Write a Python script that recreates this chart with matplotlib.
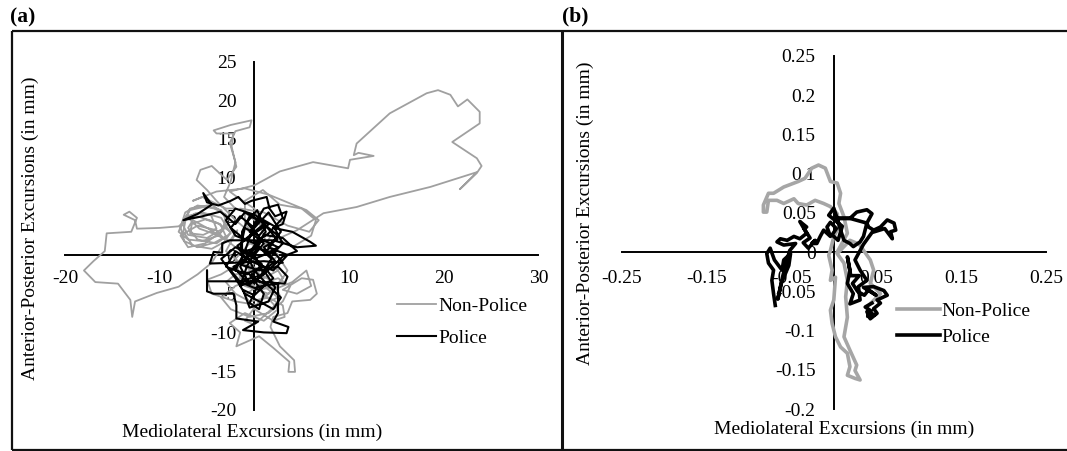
import matplotlib
matplotlib.use("Agg")
import matplotlib.pyplot as plt
from matplotlib.lines import Line2D
import numpy as np

# ---------------- data ----------------
# Panel (a) – mm
a_xticks = [-20, -10, 0, 10, 20, 30]
a_yticks = [-20, -15, -10, -5, 0, 5, 10, 15, 20, 25]

a_nonpolice = [
    (0.5, -1.0), (-1.5, 0.5), (-3.0, 2.0), (-5.0, 3.5), (-6.5, 4.5), (-7.0, 3.5), (-6.0, 2.0),
    (-4.0, 1.5), (-2.5, 2.8), (-3.5, 4.8), (-5.5, 5.5), (-7.2, 5.0), (-7.5, 3.0), (-6.5, 1.2),
    (-4.5, 0.8), (-3.0, 1.8), (-4.0, 3.2), (-6.0, 3.8), (-7.8, 2.5), (-7.0, 1.0), (-5.2, 1.5),
    (-3.5, 3.0), (-2.8, 5.0), (-4.5, 6.5), (-6.8, 6.0), (-7.5, 4.2),
    (-8.0, 3.7), (-10.0, 3.5), (-12.4, 3.4), (-12.6, 4.5), (-13.8, 5.2), (-13.2, 5.6), (-12.4, 4.8),
    (-13.0, 3.0), (-15.6, 2.8), (-15.8, 0.5), (-17.0, -0.8), (-18.0, -2.0), (-16.8, -3.5),
    (-14.4, -3.7), (-13.1, -5.8), (-12.9, -8.0), (-12.6, -6.0), (-10.3, -4.9), (-8.0, -4.1),
    (-6.0, -2.5), (-4.5, -1.0),
    (-2.5, 3.0), (-4.0, 4.2), (-6.0, 5.0), (-7.5, 4.5), (-8.0, 3.0), (-7.0, 2.0), (-5.5, 1.8),
    (-3.8, 2.5), (-2.8, 4.0), (-3.5, 5.8), (-5.0, 6.3), (-6.8, 5.8), (-7.6, 4.0), (-7.0, 2.6),
    (-5.0, 2.2), (-3.2, 3.5), (-3.0, 5.2), (-4.2, 6.0), (-6.0, 6.4), (-7.3, 5.5), (-7.8, 3.6),
    (-7.4, 1.8), (-6.0, 1.0), (-4.2, 1.6), (-3.0, 2.4), (-3.6, 4.0), (-5.2, 4.6), (-6.6, 4.0),
    (-6.8, 2.8), (-5.4, 2.6), (-4.0, 3.4), (-4.6, 5.2), (-6.2, 5.4), (-7.0, 4.8), (-5.8, 3.4),
    (-4.4, 2.8), (-2.6, 1.8), (-1.8, 3.2),
    (-3.0, 0.5), (-1.0, -1.5), (1.0, -3.0), (2.5, -2.0), (1.5, 0.5), (-0.5, 1.5), (-2.0, -0.5),
    (-1.5, -3.0), (0.5, -4.5), (2.5, -4.0), (3.5, -2.0), (2.0, 0.8), (0.0, 2.5),
    (-2.0, 4.5), (-4.0, 7.0), (-5.0, 8.4), (-6.1, 9.7), (-5.7, 11.0), (-4.5, 11.5), (-2.9, 9.7),
    (-1.9, 11.4), (-2.4, 14.0), (-2.2, 15.7), (-4.0, 15.7), (-4.3, 16.1), (-2.5, 16.8), (-0.3, 17.4),
    (-0.5, 16.5), (-2.0, 16.0), (-2.6, 14.5), (-2.0, 12.0), (-2.5, 9.5), (-3.2, 7.5), (-2.0, 6.0),
    (-3.0, 6.0), (-5.5, 7.5), (-6.5, 7.0), (-4.0, 8.2), (-1.0, 8.6), (1.5, 7.8), (3.5, 6.8),
    (5.5, 5.8), (6.8, 4.5), (5.8, 3.0), (3.5, 3.8), (1.0, 5.5), (-1.5, 6.0),
    (0.0, 4.5), (2.0, 3.0), (1.0, 1.0), (-1.0, 0.0), (-2.5, -2.0), (-1.0, -4.0), (1.5, -5.0),
    (3.0, -3.0), (2.0, -1.0),
    (0.0, 6.0), (-1.5, 7.2), (-2.6, 8.2), (0.0, 9.0), (2.7, 10.8), (6.2, 12.0), (9.9, 11.2),
    (10.1, 12.3), (12.6, 12.8), (11.0, 13.2), (10.5, 12.9), (10.8, 14.4), (14.3, 18.3),
    (18.2, 20.9), (19.4, 21.3), (20.7, 20.7), (21.5, 19.2), (22.5, 20.1), (23.8, 18.5),
    (23.8, 17.0), (20.9, 14.6), (23.5, 12.5), (24.0, 11.5), (23.5, 10.6), (21.7, 8.5),
    (22.3, 9.2), (23.5, 10.7),
    (18.6, 8.8), (14.3, 7.5), (10.8, 6.2), (7.3, 5.4), (4.5, 3.2), (2.5, 2.1),
    (4.0, 1.0), (6.0, 2.5), (6.5, 4.5), (5.0, 6.0), (2.7, 6.5), (0.9, 8.4), (-1.0, 7.0), (-1.0, 4.0),
    (0.5, 2.0), (2.5, 0.0), (1.0, -2.0), (-1.5, -1.0), (-3.5, -2.5), (-5.0, -3.2), (-4.5, -5.0),
    (-2.0, -6.0), (0.5, -6.5), (2.5, -5.5),
    (0.0, -3.0), (-2.0, -4.0), (-3.5, -5.5), (-2.5, -7.0), (-0.5, -8.0), (1.5, -7.5), (3.0, -6.0),
    (3.8, -4.0), (2.5, -3.0), (0.5, -3.8), (-1.0, -5.2), (0.0, -7.0), (2.0, -8.5), (3.2, -8.0),
    (3.0, -6.5), (1.5, -5.5), (-0.5, -6.0), (-2.0, -5.0), (-3.0, -3.5), (-2.0, -2.5), (0.0, -2.0),
    (2.0, -3.5), (2.8, -5.5), (1.8, -7.0), (0.0, -9.0), (-1.0, -8.5), (0.5, -6.0), (2.0, -4.5),
    (4.0, -3.5), (5.5, -2.0), (6.0, -4.0), (4.5, -5.0), (3.0, -4.5),
    (5.0, -3.0), (6.2, -3.2), (6.6, -5.0), (5.9, -5.8), (4.0, -6.0), (3.5, -7.5), (2.0, -8.0),
    (1.7, -9.3), (2.7, -11.8), (4.2, -13.6), (4.3, -15.1), (3.6, -15.1), (3.7, -13.8), (2.0, -12.0),
    (0.5, -10.5), (-1.9, -11.8), (-1.5, -10.0), (-2.6, -8.8), (-1.0, -7.5), (1.0, -8.5),
    (2.5, -7.0), (1.0, -5.0), (-1.0, -3.0), (0.0, -1.0),
]

a_police = [
    (0.0, 0.0), (1.0, 1.5), (-0.5, 3.0), (0.5, 4.5), (-1.0, 5.5), (-2.0, 4.0), (-3.4, 5.4),
    (-3.6, 5.6), (-5.5, 5.0), (-7.5, 4.5), (-6.0, 5.3), (-4.5, 6.5), (-5.4, 8.0), (-5.0, 6.8),
    (-3.8, 6.4), (-2.5, 7.0), (-1.7, 7.5), (-1.0, 6.6), (-0.3, 7.0), (1.3, 7.5), (1.6, 6.0),
    (2.2, 5.0), (3.4, 5.6), (3.0, 4.0), (2.0, 3.5), (4.0, 3.0), (5.9, 1.7), (6.5, 1.2), (4.5, 1.0),
    (2.0, 1.9), (-0.5, 1.9), (-2.6, 1.9), (-3.4, 1.5), (-3.4, 0.3), (-4.3, 0.4), (-4.7, -1.1),
    (-2.0, -1.0), (1.0, -0.8), (3.0, -1.0), (2.0, 0.5), (0.0, -0.5), (-1.5, 0.8), (-1.0, 3.5),
    (0.5, 2.5), (1.5, 4.0), (-0.5, 5.0), (-1.3, 3.0), (-1.3, -1.3), (0.5, -2.0), (2.5, -1.5),
    (3.5, -2.8), (3.2, -3.7), (0.0, -3.4), (-3.0, -3.4), (-5.0, -3.4), (-5.0, -2.0), (-5.0, -4.7),
    (-4.3, -5.0), (-2.2, -5.0), (-1.9, -6.5), (-1.9, -8.2), (0.4, -8.6), (-1.2, -9.7), (1.0, -10.0),
    (3.4, -10.1), (3.6, -9.3), (2.0, -8.6), (2.5, -7.5), (2.5, -3.7), (0.3, -4.1), (-0.5, -6.2),
    (0.5, -7.0), (1.0, -5.0), (-0.5, -2.5), (-2.0, -2.0), (-1.0, 0.5), (0.5, 1.0), (1.8, -0.5),
    (0.5, -3.0), (-1.5, -4.0), (-0.8, -1.5), (0.8, 2.0), (2.5, 1.0), (1.0, 0.0),
    (2.5, 2.5), (1.0, 4.0), (-1.0, 2.0), (-2.5, 3.5), (-1.5, 5.0), (0.0, 3.5), (1.5, 5.5),
    (2.8, 3.0), (1.5, 1.0), (3.5, 0.0), (2.0, -2.0), (0.0, -1.0), (-2.0, 0.5), (-3.0, -1.5),
    (-1.0, -2.5), (1.0, -1.5), (2.0, -3.0), (0.5, -4.5), (-1.5, -3.5), (-2.5, -2.0), (-1.0, -0.5),
    (0.5, 0.8), (2.0, 0.2), (3.0, 1.5), (2.0, 3.8), (0.0, 5.2), (-2.0, 6.0), (-3.0, 4.5),
    (-2.0, 2.5), (0.0, 1.5), (1.5, 2.8), (3.0, 4.8), (2.5, 6.5), (1.0, 6.0), (0.0, 4.0),
    (-1.0, 0.5), (0.0, -2.0), (1.5, -4.0), (2.8, -5.5), (2.0, -7.0), (0.5, -6.0), (-1.0, -5.0),
    (-2.0, -3.0), (-3.5, -0.5), (-2.0, 1.0), (0.0, 0.0), (1.0, -2.5), (-0.5, -3.8), (-1.5, -1.5),
    (0.2, 1.2), (1.2, 3.0), (0.3, 5.8), (-0.8, 4.2), (0.6, 2.2), (-0.6, 0.2), (0.8, -1.2),
    (-0.4, -2.8), (1.2, -3.8), (0.0, -5.2), (-1.2, -4.5), (-0.5, -6.8), (1.5, -6.0), (2.2, -4.2),
    (1.0, -2.0), (2.2, -0.8), (1.0, 1.0), (2.4, 2.0), (1.2, 3.8), (-0.2, 2.6), (-1.8, 1.2),
    (-0.8, -0.8), (-2.2, -1.5), (-1.0, -3.2), (0.8, -2.6), (1.8, -1.6), (3.0, -0.2), (4.5, 0.5),
    (3.0, 2.2), (1.0, 2.6),
]

# Panel (b) – mm
b_xticks = [-0.25, -0.15, -0.05, 0.05, 0.15, 0.25]
b_xticklabels = ["-0.25", "-0.15", "-0.05", "0.05", "0.15", "0.25"]
b_yticks = [-0.2, -0.15, -0.1, -0.05, 0, 0.05, 0.1, 0.15, 0.2, 0.25]
b_yticklabels = ["-0.2", "-0.15", "-0.1", "-0.05", "0", "0.05", "0.1", "0.15", "0.2", "0.25"]

b_nonpolice = [
    (0.004, 0.000), (0.016, 0.024), (0.012, 0.045), (0.006, 0.062), (0.008, 0.075), (0.004, 0.088),
    (-0.004, 0.090), (-0.010, 0.107), (-0.018, 0.111), (-0.026, 0.107), (-0.034, 0.094),
    (-0.042, 0.090), (-0.059, 0.083), (-0.071, 0.075), (-0.077, 0.075), (-0.083, 0.060),
    (-0.083, 0.051), (-0.079, 0.051), (-0.077, 0.066), (-0.067, 0.066), (-0.059, 0.062),
    (-0.047, 0.068), (-0.042, 0.062), (-0.032, 0.060), (-0.022, 0.066), (-0.012, 0.062),
    (-0.004, 0.058), (0.004, 0.049), (0.006, 0.032), (0.000, 0.020), (-0.004, 0.002),
    (-0.006, -0.004), (-0.002, -0.023), (-0.004, -0.036), (0.002, -0.032), (0.000, -0.061),
    (-0.004, -0.074), (-0.002, -0.091), (0.002, -0.108), (0.008, -0.121), (0.016, -0.129),
    (0.019, -0.146), (0.016, -0.157), (0.025, -0.161), (0.031, -0.163), (0.025, -0.151),
    (0.027, -0.144), (0.019, -0.125), (0.012, -0.108), (0.016, -0.083), (0.014, -0.057),
    (0.016, -0.036), (0.012, -0.014), (0.004, -0.002), (0.019, 0.015), (0.030, 0.010),
    (0.043, -0.010), (0.047, -0.023), (0.043, -0.040), (0.055, -0.053), (0.039, -0.070),
]

b_police = [
    (-0.069, -0.068), (-0.071, -0.053), (-0.073, -0.036), (-0.071, -0.023), (-0.077, -0.014),
    (-0.079, -0.002), (-0.075, 0.005), (-0.070, -0.010), (-0.061, -0.023), (-0.059, -0.010),
    (-0.051, -0.002), (-0.053, -0.017), (-0.062, -0.040), (-0.066, -0.060), (-0.060, -0.030),
    (-0.052, 0.002), (-0.045, 0.011), (-0.059, 0.009), (-0.067, 0.013), (-0.063, 0.017),
    (-0.055, 0.015), (-0.047, 0.020), (-0.040, 0.017), (-0.032, 0.024), (-0.040, 0.039),
    (-0.032, 0.032), (-0.035, 0.030), (-0.028, 0.018), (-0.036, 0.012), (-0.030, 0.005),
    (-0.022, 0.015), (-0.026, 0.011), (-0.020, 0.011), (-0.016, 0.020), (-0.012, 0.028),
    (-0.004, 0.020), (-0.008, 0.032), (-0.004, 0.038), (0.003, 0.030), (-0.002, 0.022),
    (0.005, 0.015), (0.010, 0.033), (-0.006, 0.047), (0.000, 0.056), (0.004, 0.043),
    (0.008, 0.028), (0.012, 0.015), (0.019, 0.011), (0.023, 0.007), (0.031, 0.013), (0.035, 0.020),
    (0.039, 0.037), (0.045, 0.049), (0.039, 0.054), (0.027, 0.051), (0.019, 0.043), (0.004, 0.043),
    (0.019, 0.043), (0.039, 0.037), (0.041, 0.032), (0.047, 0.028), (0.055, 0.032), (0.063, 0.041),
    (0.071, 0.037), (0.073, 0.028), (0.067, 0.026), (0.069, 0.017), (0.060, 0.030), (0.045, 0.025),
    (0.035, 0.010), (0.025, -0.010), (0.031, -0.023), (0.039, -0.036), (0.029, -0.044),
    (0.031, -0.061), (0.019, -0.066), (0.023, -0.053), (0.016, -0.040), (0.019, -0.023),
    (0.016, -0.006), (0.020, -0.030), (0.030, -0.030), (0.022, -0.040), (0.028, -0.050),
    (0.036, -0.055), (0.041, -0.048), (0.050, -0.055), (0.035, -0.045), (0.047, -0.044),
    (0.059, -0.049), (0.063, -0.055), (0.051, -0.061), (0.055, -0.065), (0.047, -0.072),
    (0.051, -0.078), (0.043, -0.085), (0.039, -0.076), (0.048, -0.080), (0.040, -0.082),
    (0.044, -0.075), (0.037, -0.070), (0.045, -0.065),
]

series_labels = ["Non-Police", "Police"]
xlabel = "Mediolateral Excursions (in mm)"
ylabel = "Anterior-Posterior Excursions (in mm)"

# ---------------- figure ----------------
W, H = 1067, 451
SERIF = ["Liberation Serif", "DejaVu Serif"]
plt.rcParams["font.family"] = SERIF
plt.rcParams["axes.unicode_minus"] = False
fig = plt.figure(figsize=(W / 100, H / 100), dpi=100)


def rect(l, r, t, b):
    return [l / W, 1 - b / H, (r - l) / W, (b - t) / H]


def fx(px):
    return px / W


def fy(py):
    return 1 - py / H


def style_axes(ax, xpad, ypad):
    for s in ["top", "right"]:
        ax.spines[s].set_visible(False)
    ax.spines["left"].set_position(("data", 0))
    ax.spines["bottom"].set_position(("data", 0))
    for s in ["left", "bottom"]:
        ax.spines[s].set_linewidth(1.4)
        ax.spines[s].set_zorder(1)
    ax.tick_params(axis="both", length=0, labelsize=14)
    ax.tick_params(axis="x", pad=xpad)
    ax.tick_params(axis="y", pad=ypad)
    ax.patch.set_visible(False)


# Panel (a)
axA = fig.add_axes(rect(65, 538.4, 61.5, 409.8))
ax_np = np.array(a_nonpolice)
ax_p = np.array(a_police)
lA1, = axA.plot(ax_np[:, 0], ax_np[:, 1], color="#a0a0a0", lw=1.3, solid_joinstyle="round", zorder=3)
lA2, = axA.plot(ax_p[:, 0], ax_p[:, 1], color="#000000", lw=1.5, solid_joinstyle="round", zorder=4)
axA.set_xlim(-20, 30)
axA.set_ylim(-20, 25)
axA.set_xticks(a_xticks)
axA.set_yticks(a_yticks)
style_axes(axA, 10.5, 13)
axA.legend([lA1, lA2], series_labels, loc="upper left", frameon=False,
           bbox_to_anchor=(fx(397), fy(297)), bbox_transform=fig.transFigure,
           borderpad=0, borderaxespad=0, handlelength=2.0, handletextpad=0.15,
           labelspacing=0.76, prop={"family": SERIF, "size": 14})

# Panel (b)
axB = fig.add_axes(rect(621.7, 1045.9, 56, 409))
bx_np = np.array(b_nonpolice)
bx_p = np.array(b_police)
lB1, = axB.plot(bx_np[:, 0], bx_np[:, 1], color="#a6a6a6", lw=2.6, solid_joinstyle="round", zorder=3)
lB2, = axB.plot(bx_p[:, 0], bx_p[:, 1], color="#000000", lw=2.6, solid_joinstyle="round", zorder=4)
axB.set_xlim(-0.25, 0.25)
axB.set_ylim(-0.2, 0.25)
axB.set_xticks(b_xticks)
axB.set_xticklabels(b_xticklabels)
axB.set_yticks(b_yticks)
axB.set_yticklabels(b_yticklabels)
style_axes(axB, 13, 13)
axB.legend([lB1, lB2], series_labels, loc="upper left", frameon=False,
           bbox_to_anchor=(fx(897), fy(302)), bbox_transform=fig.transFigure,
           borderpad=0, borderaxespad=0, handlelength=2.2, handletextpad=0.1,
           labelspacing=0.43, prop={"family": SERIF, "size": 14})

# axis titles
fig.text(fx(252), fy(432), xlabel, ha="center", va="center", fontsize=14)
fig.text(fx(30), fy(228), ylabel, ha="center", va="center", rotation=90, fontsize=14)
fig.text(fx(844), fy(429), xlabel, ha="center", va="center", fontsize=14)
fig.text(fx(585), fy(213), ylabel, ha="center", va="center", rotation=90, fontsize=14)

# panel letters
fig.text(fx(10), fy(17), "(a)", ha="left", va="center", fontsize=15.5, fontweight="bold")
fig.text(fx(562), fy(16), "(b)", ha="left", va="center", fontsize=15.5, fontweight="bold")

# panel frames
frame_kw = dict(transform=fig.transFigure, color="#111111", solid_capstyle="butt")
fig.add_artist(Line2D([fx(11.7), 1], [fy(30.7), fy(30.7)], lw=1.6, **frame_kw))
fig.add_artist(Line2D([fx(11.7), 1], [fy(449.8), fy(449.8)], lw=1.6, **frame_kw))
fig.add_artist(Line2D([fx(11.7), fx(11.7)], [fy(30.7), fy(449.8)], lw=1.6, **frame_kw))
fig.add_artist(Line2D([fx(561.7), fx(561.7)], [fy(30.7), fy(449.8)], lw=2.2, **frame_kw))

fig.savefig("out.png", dpi=100)
